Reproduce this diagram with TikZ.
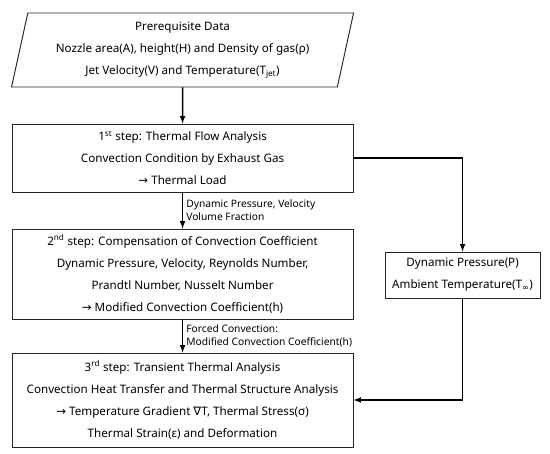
\documentclass[tikz,border=0pt]{standalone}
\usepackage{fontspec}
\setmainfont{Noto Sans}
\newfontfamily\symfont{DejaVu Sans}
\usetikzlibrary{arrows.meta,positioning,shapes.geometric}
\tikzset{
	blk/.style={draw=black!85, line width=0.95pt, align=center, inner sep=2pt,
		font=\fontsize{11.6}{22}\selectfont},
	stepbox/.style={blk, minimum width=11.94cm},
	inbox/.style={blk, trapezium, trapezium left angle=75, trapezium right angle=105,
		trapezium stretches body=true, minimum width=11.97cm, minimum height=2.59cm},
	lbl/.style={font=\fontsize{10.2}{13}\selectfont, align=left, inner sep=1pt, xshift=2pt},
	conn/.style={line width=1.5pt, ->},
}
\begin{document}
\begin{tikzpicture}[x=1cm, y=1cm, >=latex]
	\useasboundingbox (0,0) rectangle (19.25,15.89);
	\node[inbox] at (6.39,14.14) (pre) {Prerequisite Data\\Nozzle area(A), height(H) and Density of gas(ρ)\\Jet Velocity(V) and Temperature(T\textsubscript{jet})};
	\node[stepbox, minimum height=2.38cm] at (6.39,10.36) (s1) {1\textsuperscript{st} step: Thermal Flow Analysis\\Convection Condition by Exhaust Gas\\{\symfont →} Thermal Load};
	\node[stepbox, minimum height=3.15cm] at (6.39,6.30) (s2) {2\textsuperscript{nd} step: Compensation of Convection Coefficient\\Dynamic Pressure, Velocity, Reynolds Number,\\Prandtl Number, Nusselt Number\\{\symfont →} Modified Convection Coefficient(h)};
	\node[stepbox, minimum height=3.29cm] at (6.39,1.89) (s3) {3\textsuperscript{rd} step: Transient Thermal Analysis\\Convection Heat Transfer and Thermal Structure Analysis\\{\symfont →} Temperature Gradient {\symfont ∇}T, Thermal Stress(σ)\\Thermal Strain(ε) and Deformation};
	\node[blk, minimum width=5.43cm, minimum height=1.61cm] at (16.19,6.265) (amb) {Dynamic Pressure(P)\\Ambient Temperature(T\textsubscript{\symfont ∞})};
	\draw[conn] (pre.south) -- (s1.north);
	\draw[conn] (s1.south) -- node[lbl, right] {Dynamic Pressure, Velocity\\Volume Fraction} (s2.north);
	\draw[conn] (s2.south) -- node[lbl, right] {Forced Convection:\\Modified Convection Coefficient(h)} (s3.north);
	\draw[conn] (s1.east) -| (amb.north);
	\draw[conn] (amb.south) |- (s3.east);
\end{tikzpicture}
\end{document}
